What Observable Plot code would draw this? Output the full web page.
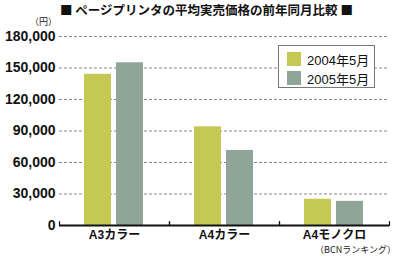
<!DOCTYPE html>
<html>
<head>
<meta charset="utf-8">
<script src="https://cdn.jsdelivr.net/npm/d3@7"></script>
<script src="https://cdn.jsdelivr.net/npm/@observablehq/plot@0.6"></script>
<style>
  body { margin: 0; background: #fff; }
  #wrap { position: relative; width: 400px; height: 261px; background: #fff; overflow: hidden;
          font-family: "Liberation Sans", "Noto Sans CJK JP", sans-serif; }
  #chart { position: absolute; left: 0; top: 0; }
  .title { position: absolute; left: 60px; top: 4px; font-size: 12.5px; font-weight: bold; color: #111; white-space: nowrap;
           font-family: "Noto Sans CJK JP", sans-serif; line-height: 1; }
  .unit { position: absolute; left: 30px; top: 17px; font-size: 9px; color: #222; white-space: nowrap;
          font-family: "Noto Sans CJK JP", sans-serif; line-height: 1; }
  .caption { position: absolute; right: 4px; top: 245px; font-size: 9px; color: #222; white-space: nowrap;
             font-family: "Noto Sans CJK JP", sans-serif; line-height: 1; }
  .legend { position: absolute; left: 278px; top: 45px; width: 95px; height: 41px; border: 1px solid #777; background: #fff; }
  .legend .item { position: absolute; left: 8px; height: 14px; display: flex; align-items: center; font-size: 13px; color: #111; white-space: nowrap; }
  .legend .sw { width: 14px; height: 14px; margin-right: 6px; }
</style>
</head>
<body>
<div id="wrap">
  <div id="chart"></div>
  <div class="title" id="title"></div>
  <div class="unit" id="unit"></div>
  <div class="legend" id="legend"></div>
  <div class="caption" id="caption"></div>
</div>
<script>
const titleText = "■ ページプリンタの平均実売価格の前年同月比較 ■";
const unitText = "（円）";
const captionText = "（BCNランキング）";
const categories = ["A3カラー", "A4カラー", "A4モノクロ"];
const series = ["2004年5月", "2005年5月"];
const values2004 = [144000, 94000, 25000];
const values2005 = [155000, 71500, 23000];
const yTicks = [0, 30000, 60000, 90000, 120000, 150000, 180000];
const colors = ["#c4c956", "#8fa597"];

const rows = [];
categories.forEach((c, i) => {
  rows.push({category: c, series: series[0], value: values2004[i]});
  rows.push({category: c, series: series[1], value: values2005[i]});
});

const chart = Plot.plot({
  width: 400,
  height: 261,
  marginLeft: 58,
  marginRight: 10,
  marginTop: 36,
  marginBottom: 36,
  style: {fontFamily: "'Liberation Sans', 'Noto Sans CJK JP', sans-serif", background: "transparent", color: "#111"},
  fx: {domain: categories, padding: 0, label: null},
  x: {domain: series, paddingInner: 0.15, paddingOuter: 0.75, axis: null},
  y: {domain: [0, 180000], label: null},
  color: {domain: series, range: colors},
  marks: [
    Plot.ruleY(yTicks.filter(d => d > 0), {stroke: "#888", strokeDasharray: "3,2"}),
    Plot.barY(rows, {fx: "category", x: "series", y: "value", fill: "series"}),
    Plot.ruleY([0], {stroke: "#111", strokeWidth: 2}),
    Plot.vector([0], {frameAnchor: "bottom-left", length: 4, r: 0, anchor: "start", stroke: "#111", strokeWidth: 1.2}),
    Plot.vector([0], {frameAnchor: "bottom-right", length: 4, r: 0, anchor: "start", stroke: "#111", strokeWidth: 1.2}),
    Plot.axisY({ticks: yTicks, tickFormat: d3.format(","), tickSize: 0, tickPadding: 4, fontSize: 14, fontWeight: "bold", label: null}),
    Plot.axisFx({anchor: "bottom", tickSize: 0, tickPadding: 5, fontSize: 12, fontWeight: "bold", label: null})
  ]
});
document.getElementById("chart").appendChild(chart);

document.getElementById("title").textContent = titleText;
document.getElementById("unit").textContent = unitText;
document.getElementById("caption").textContent = captionText;
const legend = document.getElementById("legend");
series.forEach((s, i) => {
  const item = document.createElement("div");
  item.className = "item";
  item.style.top = (6 + i * 19) + "px";
  const sw = document.createElement("span");
  sw.className = "sw";
  sw.style.background = colors[i];
  const t = document.createElement("span");
  t.textContent = s;
  item.appendChild(sw);
  item.appendChild(t);
  legend.appendChild(item);
});
</script>
</body>
</html>
